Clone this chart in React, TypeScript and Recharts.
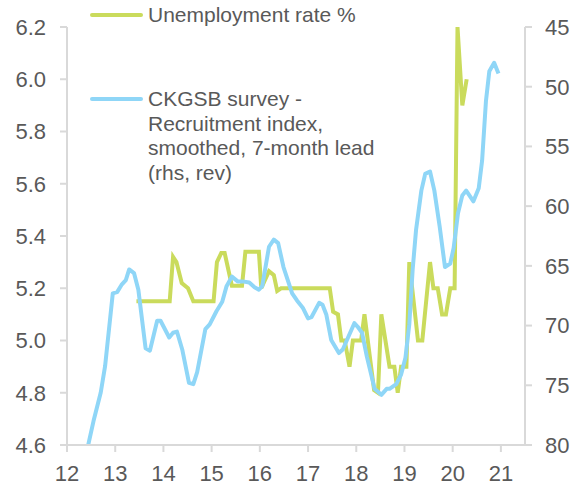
import { Line, LineChart, XAxis, YAxis } from "recharts";

// Unemployment rate % (lhs) at its turning points
const unempYears = [
  13.44, 14.13, 14.2, 14.27, 14.38, 14.51, 14.62, 15.04, 15.11, 15.2, 15.27,
  15.42, 15.63, 15.7, 15.98, 16.03, 16.19, 16.29, 16.36, 16.44, 17.45, 17.52,
  17.62, 17.69, 17.76, 17.86, 17.93, 18.1, 18.17, 18.37, 18.45, 18.52, 18.69,
  18.79, 18.86, 18.93, 19.04, 19.1, 19.28, 19.37, 19.53, 19.6, 19.69, 19.78,
  19.86, 19.95, 20.04, 20.1, 20.2, 20.29,
];
const unempRate = [
  5.15, 5.15, 5.32, 5.3, 5.22, 5.2, 5.15, 5.15, 5.3, 5.335, 5.335, 5.21, 5.21,
  5.34, 5.34, 5.2, 5.265, 5.25, 5.19, 5.2, 5.2, 5.11, 5.1, 5.0, 5.0, 4.9, 5.0,
  5.0, 5.1, 4.81, 4.8, 5.1, 4.9, 4.9, 4.8, 4.9, 4.9, 5.3, 5.0, 5.0, 5.3, 5.2,
  5.2, 5.1, 5.1, 5.2, 5.2, 6.2, 5.9, 6.0,
];

// CKGSB recruitment index, smoothed, 7-month lead (rhs, reversed)
const ckgsbYears = [
  12.44, 12.55, 12.7, 12.79, 12.95, 13.04, 13.13, 13.22, 13.29, 13.39, 13.48,
  13.63, 13.72, 13.87, 13.94, 14.12, 14.2, 14.28, 14.39, 14.53, 14.62, 14.7,
  14.87, 14.96, 15.1, 15.22, 15.31, 15.42, 15.54, 15.64, 15.78, 15.89, 15.98,
  16.05, 16.19, 16.29, 16.38, 16.49, 16.67, 16.77, 16.89, 17.0, 17.07, 17.23,
  17.3, 17.38, 17.48, 17.64, 17.72, 17.96, 18.03, 18.12, 18.22, 18.38, 18.52,
  18.63, 18.69, 18.83, 18.93, 19.02, 19.1, 19.17, 19.24, 19.35, 19.43, 19.53,
  19.62, 19.73, 19.84, 19.95, 20.02, 20.11, 20.2, 20.28, 20.43, 20.54, 20.61,
  20.69, 20.76, 20.86, 20.95,
];
const ckgsbIndex = [
  80, 78.0, 75.6, 73.4, 67.3, 67.2, 66.6, 66.2, 65.3, 65.6, 67.0, 71.9, 72.1,
  69.6, 69.6, 71.0, 70.6, 70.5, 72.0, 74.8, 74.9, 73.9, 70.3, 69.9, 68.8, 68.0,
  66.7, 65.9, 66.3, 66.3, 66.4, 66.8, 67.0, 66.7, 63.4, 62.8, 63.1, 65.1, 67.3,
  67.9, 68.5, 69.4, 69.3, 68.1, 68.25, 69.1, 71.2, 72.3, 72.0, 69.8, 70.1, 70.6,
  72.6, 75.3, 75.8, 75.3, 75.3, 74.9, 74.1, 72.7, 69.9, 65.3, 62.0, 58.7, 57.3,
  57.1, 58.7, 61.7, 65.1, 64.8, 63.5, 60.6, 59.1, 58.7, 59.6, 58.5, 56.2, 51.2,
  48.7, 48.0, 48.9,
];

const yearTicks = [12, 13, 14, 15, 16, 17, 18, 19, 20, 21];
const leftTicks = [4.6, 4.8, 5.0, 5.2, 5.4, 5.6, 5.8, 6.0, 6.2];
const rightTicks = [45, 50, 55, 60, 65, 70, 75, 80];

const unempData = unempYears.map((x, i) => ({ x, rate: unempRate[i] }));
const ckgsbData = ckgsbYears.map((x, i) => ({ x, index: ckgsbIndex[i] }));

const GREEN = "#cadb5c";
const BLUE = "#8fd6f7";
const TEXT = "#595959";
const AXIS = "#d9d9d9";
const FONT = "Arial, 'Liberation Sans', sans-serif";

const tickStyle = { fill: TEXT, fontSize: 22, fontFamily: FONT };

function LegendRow({ color, top, lines }: { color: string; top: number; lines: string[] }) {
  return (
    <div style={{ position: "absolute", left: 90, top }}>
      <div
        style={{
          position: "absolute",
          left: 0,
          top: 10,
          width: 53,
          height: 4,
          borderRadius: 2,
          background: color,
        }}
      />
      <div
        style={{
          position: "absolute",
          left: 58,
          top: 0,
          whiteSpace: "nowrap",
          fontFamily: FONT,
          fontSize: 21,
          lineHeight: "24.7px",
          color: TEXT,
        }}
      >
        {lines.map((l) => (
          <div key={l}>{l}</div>
        ))}
      </div>
    </div>
  );
}

export default function App() {
  return (
    <div style={{ position: "absolute", left: 0, top: 0, width: 570, height: 485, background: "#fff" }}>
      <LineChart width={570} height={485} margin={{ top: 27, right: 0, bottom: 0, left: 0 }}>
        <XAxis
          type="number"
          dataKey="x"
          domain={[12, 21.5]}
          ticks={yearTicks}
          allowDataOverflow
          height={40}
          tickSize={7}
          tickMargin={13}
          stroke={AXIS}
          strokeWidth={2}
          tick={tickStyle}
        />
        <YAxis
          yAxisId="left"
          domain={[4.6, 6.2]}
          ticks={leftTicks}
          allowDataOverflow
          width={67}
          tickSize={7}
          tickMargin={14}
          stroke={AXIS}
          strokeWidth={2}
          tick={tickStyle}
          tickFormatter={(v: number) => v.toFixed(1)}
        />
        <YAxis
          yAxisId="right"
          orientation="right"
          reversed
          domain={[45, 80]}
          ticks={rightTicks}
          allowDataOverflow
          width={45}
          tickSize={7}
          tickMargin={13}
          stroke={AXIS}
          strokeWidth={2}
          tick={{ ...tickStyle, textAnchor: "start" }}
        />
        <Line
          yAxisId="left"
          data={unempData}
          dataKey="rate"
          type="linear"
          stroke={GREEN}
          strokeWidth={4}
          dot={false}
          isAnimationActive={false}
        />
        <Line
          yAxisId="right"
          data={ckgsbData}
          dataKey="index"
          type="linear"
          stroke={BLUE}
          strokeWidth={4}
          strokeLinejoin="round"
          dot={false}
          isAnimationActive={false}
        />
      </LineChart>
      <LegendRow color={GREEN} top={3} lines={["Unemployment rate %"]} />
      <LegendRow color={BLUE} top={87} lines={["CKGSB survey -", "Recruitment index,", "smoothed, 7-month lead", "(rhs, rev)"]} />
    </div>
  );
}
